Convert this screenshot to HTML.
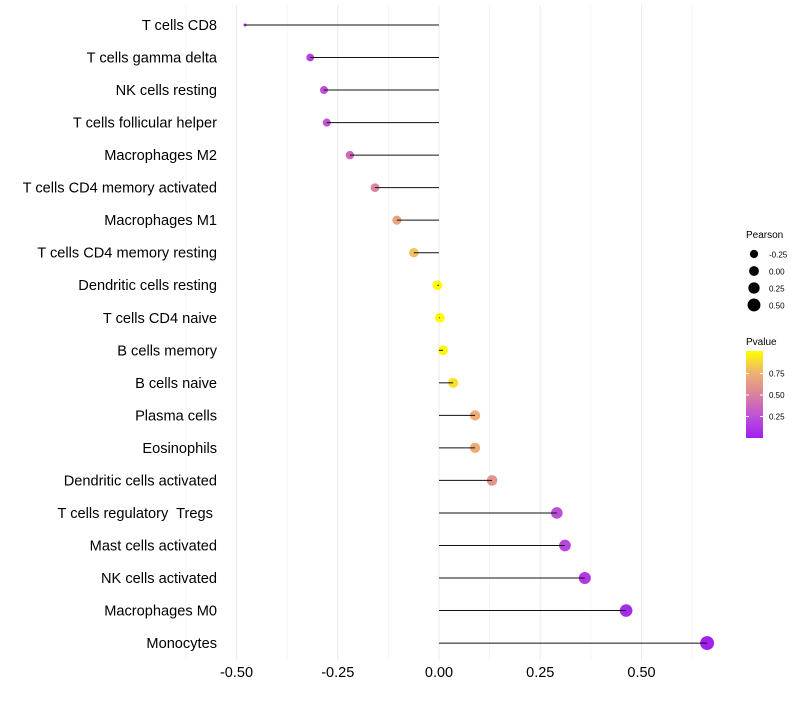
<!DOCTYPE html>
<html><head><meta charset="utf-8"><style>
body{margin:0;background:#fff;}
svg{font-family:"Liberation Sans",Arial,sans-serif;}
text{white-space:pre;}
</style></head><body>
<svg id="chart" width="800" height="700"></svg>
<script>
const categories=["T cells CD8","T cells gamma delta","NK cells resting","T cells follicular helper","Macrophages M2","T cells CD4 memory activated","Macrophages M1","T cells CD4 memory resting","Dendritic cells resting","T cells CD4 naive","B cells memory","B cells naive","Plasma cells","Eosinophils","Dendritic cells activated","T cells regulatory  Tregs ","Mast cells activated","NK cells activated","Macrophages M0","Monocytes"];
const pearson=[-0.479,-0.318,-0.284,-0.277,-0.22,-0.158,-0.104,-0.062,-0.004,0.002,0.01,0.035,0.089,0.089,0.131,0.291,0.311,0.36,0.462,0.662];
const pvalues=[0.05,0.18,0.25,0.27,0.38,0.52,0.68,0.8,0.99,0.99,0.97,0.9,0.72,0.72,0.6,0.25,0.2,0.13,0.06,0.01];
const xTicks=[-0.5,-0.25,0,0.25,0.5];
const xTickLabels=["-0.50","-0.25","0.00","0.25","0.50"];
const sizeLegend=[-0.25,0,0.25,0.5];
const sizeLegendLabels=["-0.25","0.00","0.25","0.50"];
const pTicks=[0.25,0.5,0.75];
const pTickLabels=["0.25","0.50","0.75"];

const NS="http://www.w3.org/2000/svg";
const svg=document.getElementById('chart');
const x=v=>439+v*405;
const y=i=>25+i*32.53;
const rad=v=>v<-0.32?Math.max(1.5,3.9-(-0.32-v)*15):3.9+(v+0.32)*3.1;
const stops=[[0,[160,32,240]],[0.25,[190,80,215]],[0.5,[218,130,160]],[0.75,[238,178,112]],[1,[255,255,0]]];
function col(p){for(let k=0;k<stops.length-1;k++){const [a,ca]=stops[k],[b,cb]=stops[k+1];if(p<=b){const t=(p-a)/(b-a);return `rgb(${ca.map((c,i)=>Math.round(c+(cb[i]-c)*t))})`;}}return 'rgb(255,255,0)';}
function mk(tag,attrs,parent){const e=document.createElementNS(NS,tag);for(const k in attrs)e.setAttribute(k,attrs[k]);(parent||svg).appendChild(e);return e;}

for(let v=-0.625;v<=0.65;v+=0.125){
  const g=mk('line',{x1:x(v),x2:x(v),y1:5,y2:660,stroke:'#ebebeb','stroke-width':Math.abs((v*4)%1)<1e-6?1:0.5});
  
  
}
xTicks.forEach((v,i)=>{
  const t=mk('text',{x:x(v),y:677,'text-anchor':'middle','font-size':14.5,fill:'#000'});
  t.textContent=xTickLabels[i];
  
  
});
categories.forEach((c,i)=>{
  const t=mk('text',{x:217,y:y(i)+5,'text-anchor':'end','font-size':14.6,fill:'#000'});
  t.textContent=c;
  
  
  const d=mk('circle',{cx:x(pearson[i]),cy:y(i),r:rad(pearson[i]),fill:col(pvalues[i])});
  
  
  const l=mk('line',{x1:x(0),x2:x(pearson[i]),y1:y(i),y2:y(i),stroke:'#111','stroke-width':1});
  
  
});
const st=mk('text',{x:746,y:238,'font-size':10});st.textContent='Pearson';


sizeLegend.forEach((v,i)=>{
  const c=mk('circle',{cx:754,cy:254+i*17,r:rad(v),fill:'#000'});
  
  
  const t=mk('text',{x:769,y:257.5+i*17,'font-size':8});t.textContent=sizeLegendLabels[i];
  
  
});
const pt=mk('text',{x:746,y:345,'font-size':10});pt.textContent='Pvalue';


const defs=mk('defs',{});
const grad=mk('linearGradient',{id:'pg',x1:0,y1:1,x2:0,y2:0},defs);
[0,0.25,0.5,0.75,1].forEach(p=>mk('stop',{offset:p,'stop-color':col(p)},grad));
const bar=mk('rect',{x:746,y:351,width:17,height:87,fill:'url(#pg)'});


const pY=p=>438-p*86;
pTicks.forEach((p,i)=>{
  mk('line',{x1:746,x2:749,y1:pY(p),y2:pY(p),stroke:'#fff'});
  mk('line',{x1:760,x2:763,y1:pY(p),y2:pY(p),stroke:'#fff'});
  const t=mk('text',{x:769,y:pY(p)+3,'font-size':8});t.textContent=pTickLabels[i];
  
  
});
</script>
</body></html>
